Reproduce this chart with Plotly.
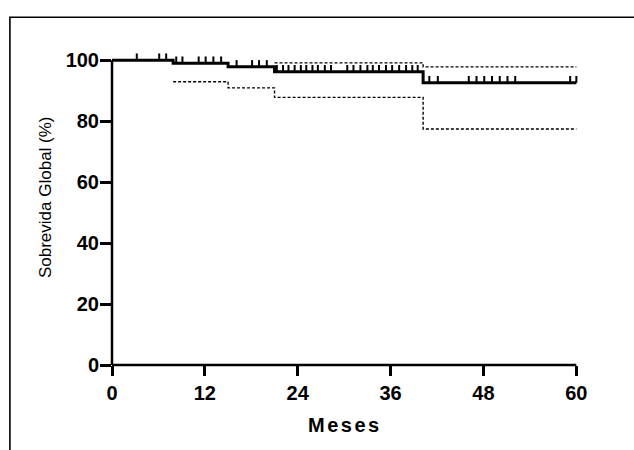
import plotly.graph_objects as go

# ---- data ----
event_times = [0, 7.9, 15.0, 21.0, 40.2, 60]
survival = [100, 99.0, 97.8, 96.2, 92.6, 92.6]

lower_ci_times = [7.9, 15.0, 21.0, 40.2, 60]
lower_ci = [92.9, 90.9, 87.8, 77.4, 77.4]

upper_ci_times = [21.0, 40.2, 60]
upper_ci = [99.1, 97.8, 97.8]

censor_times = [3.2, 6.1, 7.0,
                8.3, 9.1, 11.2, 12.1, 13.1, 14.1,
                16.1, 18.1, 19.0, 20.0,
                21.3, 22.1, 22.8, 23.6, 24.4, 25.1, 25.9, 26.6, 27.5, 28.3,
                30.4, 31.2, 32.1, 33.0, 33.7, 34.5, 35.4, 36.2, 37.1, 38.0, 38.8, 39.5,
                41.0, 42.1, 46.1, 47.1, 48.1, 49.1, 50.1, 51.1, 52.1, 59.2, 60.0]

x_ticks = [0, 12, 24, 36, 48, 60]
y_ticks = [0, 20, 40, 60, 80, 100]

CENSOR_H = 2.2  # height of censor marks in % units


def level_at(t):
    lvl = survival[0]
    for et, s in zip(event_times, survival):
        if et <= t:
            lvl = s
    return lvl


cx, cy = [], []
for t in censor_times:
    s = level_at(t)
    cx += [t, t, None]
    cy += [s, s + CENSOR_H, None]

fig = go.Figure()
fig.add_trace(go.Scatter(x=lower_ci_times, y=lower_ci, mode="lines", line_shape="hv",
                         line=dict(color="black", width=1.4, dash="3px,2px"), hoverinfo="skip"))
fig.add_trace(go.Scatter(x=upper_ci_times, y=upper_ci, mode="lines", line_shape="hv",
                         line=dict(color="black", width=1.4, dash="3px,2px"), hoverinfo="skip"))
fig.add_trace(go.Scatter(x=event_times, y=survival, mode="lines", line_shape="hv",
                         line=dict(color="black", width=3)))
fig.add_trace(go.Scatter(x=cx, y=cy, mode="lines", line=dict(color="black", width=2)))

L, R, T, B = 112, 53.4, 50.8, 85
W, H = 634, 450
pw = W - L - R
ph = H - T - B


def px_x(px):
    return (px - L) / pw


def px_y(py):
    return (H - B - py) / ph


tickfont = dict(family="Liberation Sans, Arial, sans-serif", size=20, color="black", weight="bold")

fig.update_layout(
    width=W, height=H,
    margin=dict(l=L, r=R, t=T, b=B),
    paper_bgcolor="white", plot_bgcolor="white",
    showlegend=False,
    xaxis=dict(range=[0, 60.6], tickvals=x_ticks, ticktext=[str(v) for v in x_ticks],
               ticks="outside", ticklen=10, tickwidth=2.5, tickcolor="black",
               showline=False, zeroline=False, showgrid=False, tickfont=tickfont),
    yaxis=dict(range=[0, 103], tickvals=y_ticks, ticktext=[str(v) for v in y_ticks],
               ticks="outside", ticklen=11, tickwidth=2.5, tickcolor="black",
               ticklabelstandoff=-3,
               showline=False, zeroline=False, showgrid=False, tickfont=tickfont),
    shapes=[
        dict(type="line", xref="x", yref="paper", x0=0, x1=60, y0=0, y1=0,
             line=dict(color="black", width=2.5)),
        dict(type="line", xref="paper", yref="y", x0=0, x1=0, y0=0, y1=100,
             line=dict(color="black", width=2.5)),
        dict(type="rect", xref="paper", yref="paper",
             x0=px_x(10), x1=px_x(645), y0=px_y(17), y1=px_y(470),
             line=dict(color="black", width=1.6)),
    ],
    annotations=[
        dict(text="Sobrevida Global (%)", xref="paper", yref="paper",
             x=px_x(45), y=px_y(197), textangle=-90, showarrow=False,
             xanchor="center", yanchor="middle",
             font=dict(family="Liberation Sans, Arial, sans-serif", size=17, color="black")),
        dict(text='<span style="letter-spacing:2.5px">Meses</span>', xref="paper", yref="paper",
             x=px_x(345), y=px_y(425), showarrow=False,
             xanchor="center", yanchor="middle",
             font=dict(family="Liberation Sans, Arial, sans-serif", size=20, color="black", weight="bold")),
    ],
)

fig.write_html("out.html")
